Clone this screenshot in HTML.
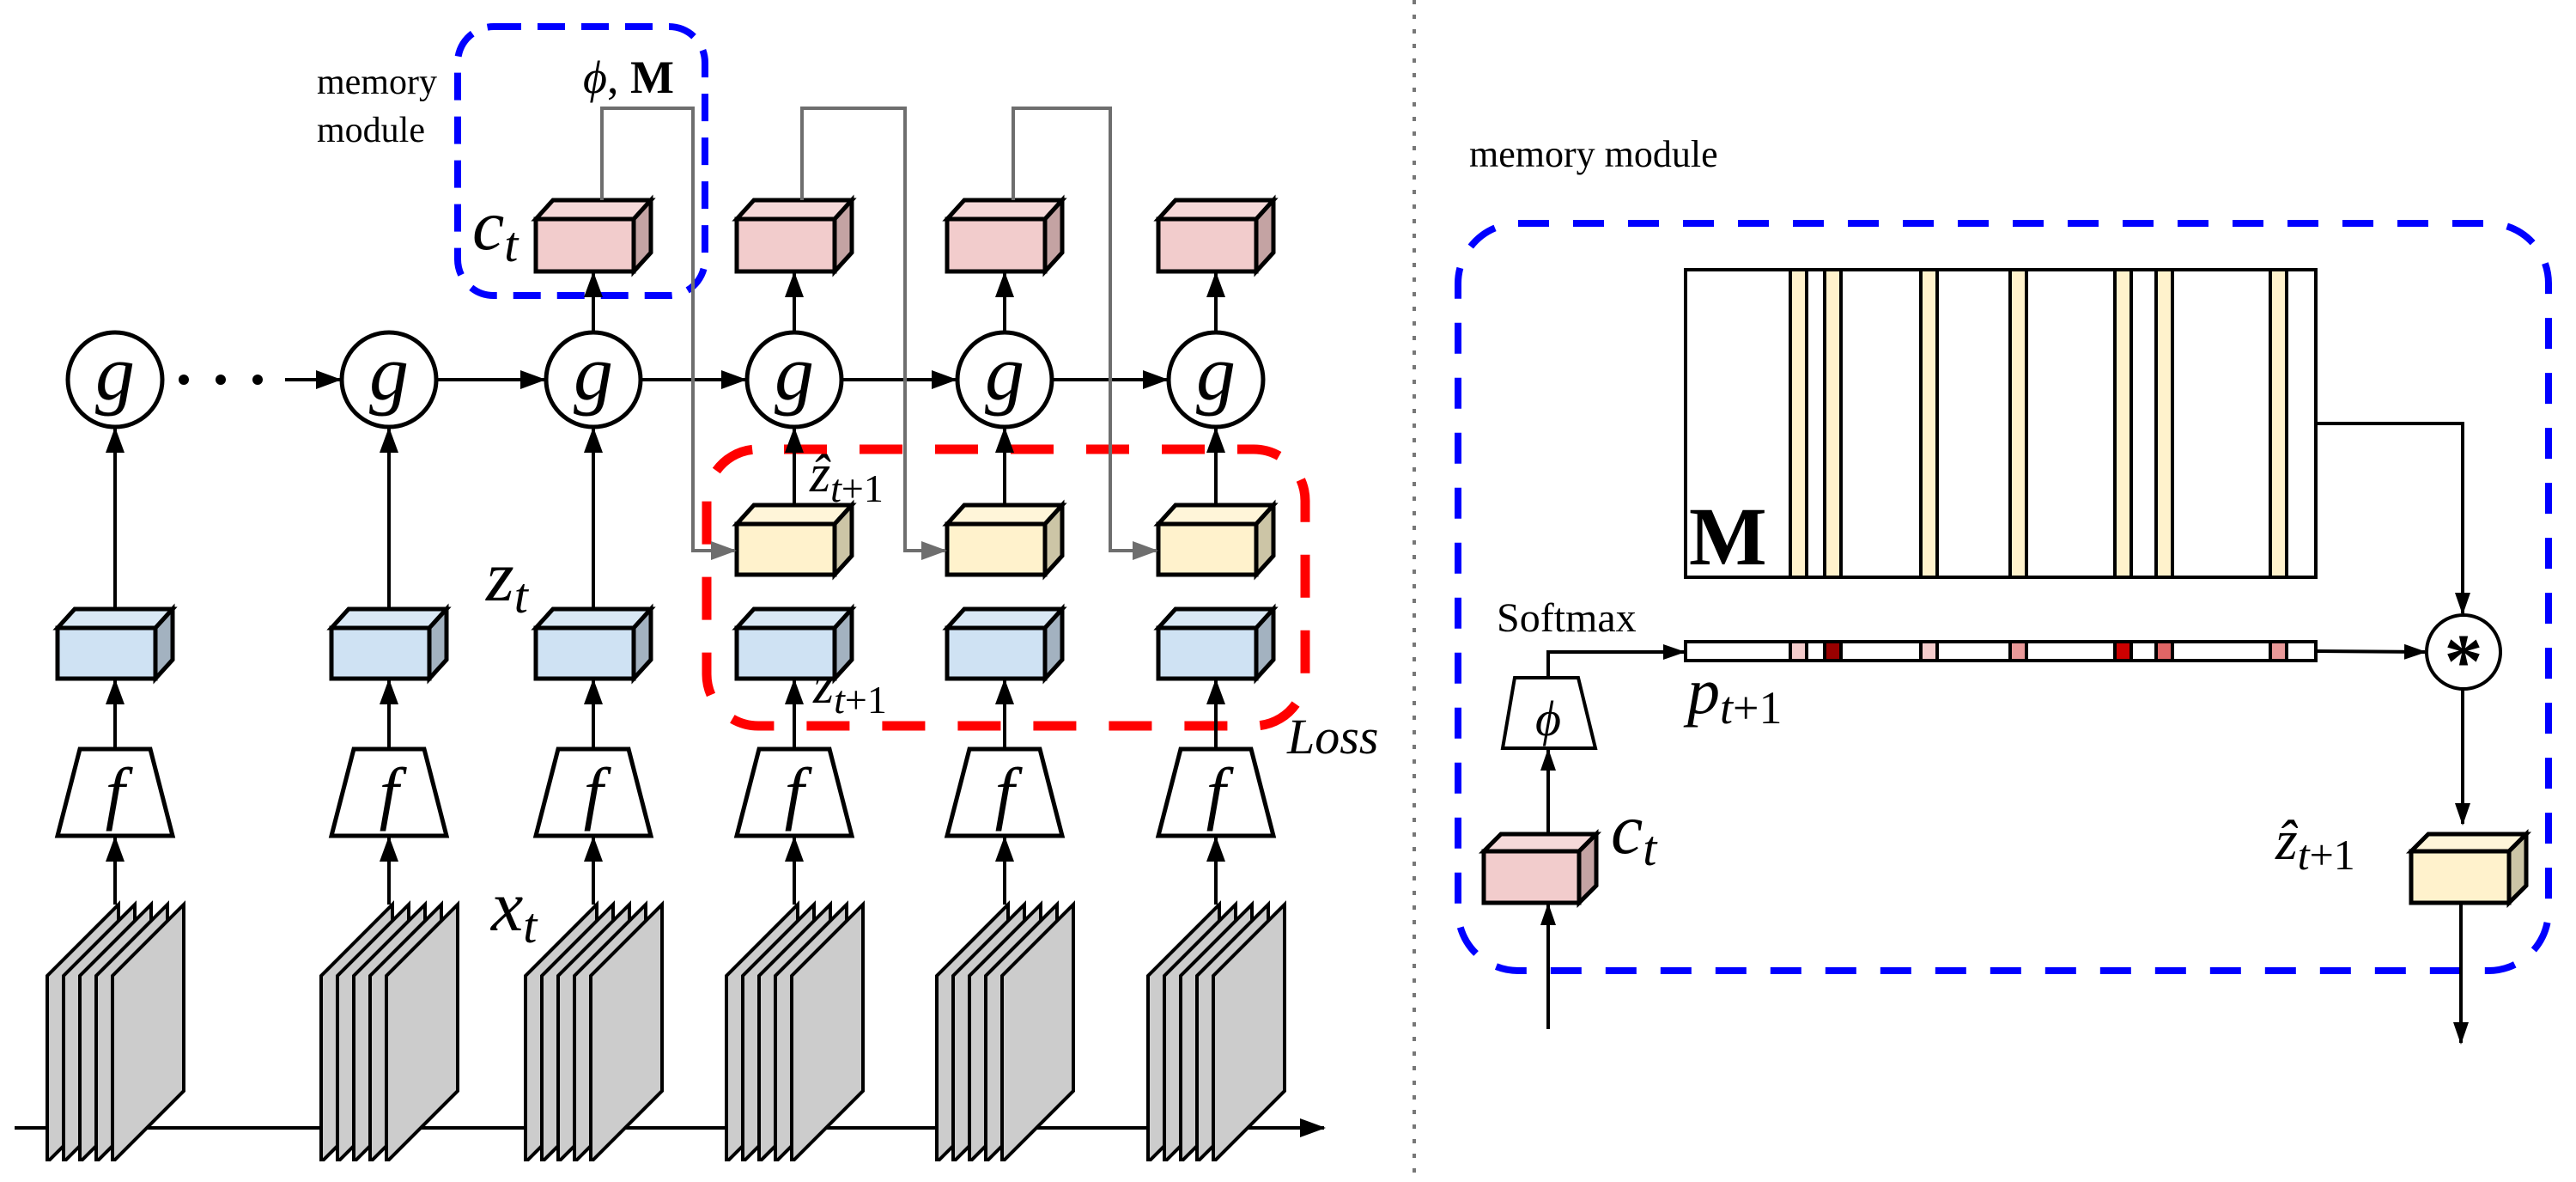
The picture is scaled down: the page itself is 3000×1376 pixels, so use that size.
<!DOCTYPE html>
<html><head><meta charset="utf-8"><style>
html,body{margin:0;padding:0;background:#fff}
svg{display:block}
svg, svg text{font-family:"Liberation Serif","DejaVu Serif",serif}
.it{font-style:italic}
</style></head><body>
<svg width="3000" height="1376" viewBox="0 0 3000 1376" xmlns="http://www.w3.org/2000/svg" font-family="Liberation Serif, DejaVu Serif, serif">
<defs>
<marker id="ab" markerUnits="userSpaceOnUse" markerWidth="30" markerHeight="22" refX="28" refY="11" orient="auto"><path d="M0,0 L30,11 L0,22 z" fill="#000"/></marker>
<marker id="ag" markerUnits="userSpaceOnUse" markerWidth="30" markerHeight="22" refX="28" refY="11" orient="auto"><path d="M0,0 L30,11 L0,22 z" fill="#6e6e6e"/></marker>
<marker id="as" markerUnits="userSpaceOnUse" markerWidth="26" markerHeight="18" refX="24" refY="9" orient="auto"><path d="M0,0 L26,9 L0,18 z" fill="#000"/></marker>
</defs>

<line x1="17" y1="1313" x2="1542" y2="1313" stroke="#000" stroke-width="4" marker-end="url(#ab)"/>

<g fill="#cccccc" stroke="#000" stroke-width="4" stroke-linejoin="miter">
<polygon points="55,1350 55,1136 138,1053 138,1270 58,1350"/>
<polygon points="74,1350 74,1136 157,1053 157,1270 77,1350"/>
<polygon points="93,1350 93,1136 176,1053 176,1270 96,1350"/>
<polygon points="112,1350 112,1136 195,1053 195,1270 115,1350"/>
<polygon points="131,1350 131,1136 214,1053 214,1270 134,1350"/>
<polygon points="374,1350 374,1136 457,1053 457,1270 377,1350"/>
<polygon points="393,1350 393,1136 476,1053 476,1270 396,1350"/>
<polygon points="412,1350 412,1136 495,1053 495,1270 415,1350"/>
<polygon points="431,1350 431,1136 514,1053 514,1270 434,1350"/>
<polygon points="450,1350 450,1136 533,1053 533,1270 453,1350"/>
<polygon points="612,1350 612,1136 695,1053 695,1270 615,1350"/>
<polygon points="631,1350 631,1136 714,1053 714,1270 634,1350"/>
<polygon points="650,1350 650,1136 733,1053 733,1270 653,1350"/>
<polygon points="669,1350 669,1136 752,1053 752,1270 672,1350"/>
<polygon points="688,1350 688,1136 771,1053 771,1270 691,1350"/>
<polygon points="846,1350 846,1136 929,1053 929,1270 849,1350"/>
<polygon points="865,1350 865,1136 948,1053 948,1270 868,1350"/>
<polygon points="884,1350 884,1136 967,1053 967,1270 887,1350"/>
<polygon points="903,1350 903,1136 986,1053 986,1270 906,1350"/>
<polygon points="922,1350 922,1136 1005,1053 1005,1270 925,1350"/>
<polygon points="1091,1350 1091,1136 1174,1053 1174,1270 1094,1350"/>
<polygon points="1110,1350 1110,1136 1193,1053 1193,1270 1113,1350"/>
<polygon points="1129,1350 1129,1136 1212,1053 1212,1270 1132,1350"/>
<polygon points="1148,1350 1148,1136 1231,1053 1231,1270 1151,1350"/>
<polygon points="1167,1350 1167,1136 1250,1053 1250,1270 1170,1350"/>
<polygon points="1337,1350 1337,1136 1420,1053 1420,1270 1340,1350"/>
<polygon points="1356,1350 1356,1136 1439,1053 1439,1270 1359,1350"/>
<polygon points="1375,1350 1375,1136 1458,1053 1458,1270 1378,1350"/>
<polygon points="1394,1350 1394,1136 1477,1053 1477,1270 1397,1350"/>
<polygon points="1413,1350 1413,1136 1496,1053 1496,1270 1416,1350"/>
</g>

<rect x="533" y="31" width="288" height="313" rx="42" fill="none" stroke="#0000ff" stroke-width="8" stroke-dasharray="32,19"/>
<rect x="823" y="523" width="697" height="322" rx="60" fill="none" stroke="#ff0000" stroke-width="11" stroke-dasharray="50,38" stroke-dashoffset="-30"/>

<g stroke="#000" stroke-width="4" marker-end="url(#ab)">
<line x1="134" y1="1053" x2="134" y2="975"/><line x1="453" y1="1053" x2="453" y2="975"/><line x1="691" y1="1053" x2="691" y2="975"/>
<line x1="925" y1="1053" x2="925" y2="975"/><line x1="1170" y1="1053" x2="1170" y2="975"/><line x1="1416" y1="1053" x2="1416" y2="975"/>
<line x1="134" y1="872" x2="134" y2="792"/><line x1="453" y1="872" x2="453" y2="792"/><line x1="691" y1="872" x2="691" y2="792"/>
<line x1="925" y1="872" x2="925" y2="792"/><line x1="1170" y1="872" x2="1170" y2="792"/><line x1="1416" y1="872" x2="1416" y2="792"/>
<line x1="134" y1="709" x2="134" y2="499"/><line x1="453" y1="709" x2="453" y2="499"/><line x1="691" y1="709" x2="691" y2="499"/>
<line x1="925" y1="589" x2="925" y2="499"/><line x1="1170" y1="589" x2="1170" y2="499"/><line x1="1416" y1="589" x2="1416" y2="499"/>
<line x1="691" y1="387" x2="691" y2="318"/><line x1="925" y1="387" x2="925" y2="318"/><line x1="1170" y1="387" x2="1170" y2="318"/><line x1="1416" y1="387" x2="1416" y2="318"/>
<line x1="332" y1="442" x2="396" y2="442"/>
<line x1="508" y1="442" x2="634" y2="442"/>
<line x1="746" y1="442" x2="868" y2="442"/>
<line x1="980" y1="442" x2="1113" y2="442"/>
<line x1="1225" y1="442" x2="1359" y2="442"/>
</g>
<circle cx="214" cy="442" r="6"/><circle cx="257" cy="442" r="6"/><circle cx="300" cy="442" r="6"/>

<g fill="#fff" stroke="#000" stroke-width="5" stroke-linejoin="miter">
<polygon points="93,872 175,872 201,973 67,973"/>
<polygon points="412,872 494,872 520,973 386,973"/>
<polygon points="650,872 732,872 758,973 624,973"/>
<polygon points="884,872 966,872 992,973 858,973"/>
<polygon points="1129,872 1211,872 1237,973 1103,973"/>
<polygon points="1375,872 1457,872 1483,973 1349,973"/>
</g>
<g font-size="82" text-anchor="middle" font-style="italic">
<text x="134" y="950">f</text><text x="453" y="950">f</text><text x="691" y="950">f</text>
<text x="925" y="950">f</text><text x="1170" y="950">f</text><text x="1416" y="950">f</text>
</g>

<g stroke="#000" stroke-width="5" stroke-linejoin="miter">
<g transform="translate(67,731)"><polygon points="0,0 20,-22 134,-22 114,0" fill="#d9e8f5"/><polygon points="114,0 134,-22 134,37 114,59" fill="#a3b2c0"/><rect width="114" height="59" fill="#cfe2f3"/></g>
<g transform="translate(386,731)"><polygon points="0,0 20,-22 134,-22 114,0" fill="#d9e8f5"/><polygon points="114,0 134,-22 134,37 114,59" fill="#a3b2c0"/><rect width="114" height="59" fill="#cfe2f3"/></g>
<g transform="translate(624,731)"><polygon points="0,0 20,-22 134,-22 114,0" fill="#d9e8f5"/><polygon points="114,0 134,-22 134,37 114,59" fill="#a3b2c0"/><rect width="114" height="59" fill="#cfe2f3"/></g>
<g transform="translate(858,731)"><polygon points="0,0 20,-22 134,-22 114,0" fill="#d9e8f5"/><polygon points="114,0 134,-22 134,37 114,59" fill="#a3b2c0"/><rect width="114" height="59" fill="#cfe2f3"/></g>
<g transform="translate(1103,731)"><polygon points="0,0 20,-22 134,-22 114,0" fill="#d9e8f5"/><polygon points="114,0 134,-22 134,37 114,59" fill="#a3b2c0"/><rect width="114" height="59" fill="#cfe2f3"/></g>
<g transform="translate(1349,731)"><polygon points="0,0 20,-22 134,-22 114,0" fill="#d9e8f5"/><polygon points="114,0 134,-22 134,37 114,59" fill="#a3b2c0"/><rect width="114" height="59" fill="#cfe2f3"/></g>
<g transform="translate(858,610)"><polygon points="0,0 20,-22 134,-22 114,0" fill="#fff5d9"/><polygon points="114,0 134,-22 134,37 114,59" fill="#ccc5a6"/><rect width="114" height="59" fill="#fff2cc"/></g>
<g transform="translate(1103,610)"><polygon points="0,0 20,-22 134,-22 114,0" fill="#fff5d9"/><polygon points="114,0 134,-22 134,37 114,59" fill="#ccc5a6"/><rect width="114" height="59" fill="#fff2cc"/></g>
<g transform="translate(1349,610)"><polygon points="0,0 20,-22 134,-22 114,0" fill="#fff5d9"/><polygon points="114,0 134,-22 134,37 114,59" fill="#ccc5a6"/><rect width="114" height="59" fill="#fff2cc"/></g>
<g transform="translate(624,255)"><polygon points="0,0 20,-22 134,-22 114,0" fill="#f5d9d9"/><polygon points="114,0 134,-22 134,39 114,61" fill="#c4a3a3"/><rect width="114" height="61" fill="#f2cccc"/></g>
<g transform="translate(858,255)"><polygon points="0,0 20,-22 134,-22 114,0" fill="#f5d9d9"/><polygon points="114,0 134,-22 134,39 114,61" fill="#c4a3a3"/><rect width="114" height="61" fill="#f2cccc"/></g>
<g transform="translate(1103,255)"><polygon points="0,0 20,-22 134,-22 114,0" fill="#f5d9d9"/><polygon points="114,0 134,-22 134,39 114,61" fill="#c4a3a3"/><rect width="114" height="61" fill="#f2cccc"/></g>
<g transform="translate(1349,255)"><polygon points="0,0 20,-22 134,-22 114,0" fill="#f5d9d9"/><polygon points="114,0 134,-22 134,39 114,61" fill="#c4a3a3"/><rect width="114" height="61" fill="#f2cccc"/></g>
</g>

<g fill="#fff" stroke="#000" stroke-width="5">
<circle cx="134" cy="442" r="55"/><circle cx="453" cy="442" r="55"/><circle cx="691" cy="442" r="55"/>
<circle cx="925" cy="442" r="55"/><circle cx="1170" cy="442" r="55"/><circle cx="1416" cy="442" r="55"/>
</g>
<g font-size="92" text-anchor="middle" font-style="italic">
<text x="134" y="465">g</text><text x="453" y="465">g</text><text x="691" y="465">g</text>
<text x="925" y="465">g</text><text x="1170" y="465">g</text><text x="1416" y="465">g</text>
</g>

<g fill="none" stroke="#6e6e6e" stroke-width="4" marker-end="url(#ag)">
<polyline points="701,233 701,126 807,126 807,641 856,641"/>
<polyline points="934,233 934,126 1054,126 1054,641 1101,641"/>
<polyline points="1180,233 1180,126 1293,126 1293,641 1347,641"/>
</g>

<text x="369" y="109" font-size="42">memory</text>
<text x="369" y="165" font-size="42">module</text>
<text x="679" y="108" font-size="54"><tspan font-style="italic">ϕ</tspan>, <tspan font-weight="bold">M</tspan></text>
<text x="550" y="290" font-size="84" font-style="italic">c<tspan font-size="58" dy="14">t</tspan></text>
<text x="566" y="699" font-size="84" font-style="italic">z<tspan font-size="58" dy="14">t</tspan></text>
<text x="572" y="1083" font-size="84" font-style="italic">x<tspan font-size="58" dy="14">t</tspan></text>
<text x="943" y="572" font-size="62" font-style="italic">ẑ<tspan font-size="46" dy="12">t</tspan><tspan font-size="46" font-style="normal">+1</tspan></text>
<text x="947" y="818" font-size="62" font-style="italic">z<tspan font-size="46" dy="12">t</tspan><tspan font-size="46" font-style="normal">+1</tspan></text>
<text x="1499" y="877" font-size="58" font-style="italic">Loss</text>

<line x1="1647" y1="0" x2="1647" y2="1376" stroke="#777" stroke-width="4" stroke-dasharray="5,12"/>

<text x="1711" y="194" font-size="44">memory module</text>
<rect x="1698" y="260" width="1270" height="870" rx="70" fill="none" stroke="#0000ff" stroke-width="8" stroke-dasharray="36,28"/>

<rect x="1963" y="314" width="734" height="358" fill="#fff" stroke="#000" stroke-width="4"/>
<g fill="#fff2cc" stroke="#000" stroke-width="4">
<rect x="2085" y="314" width="19" height="358"/><rect x="2125" y="314" width="19" height="358"/>
<rect x="2237" y="314" width="19" height="358"/><rect x="2341" y="314" width="19" height="358"/>
<rect x="2463" y="314" width="19" height="358"/><rect x="2511" y="314" width="19" height="358"/>
<rect x="2644" y="314" width="19" height="358"/>
</g>
<text x="1967" y="657" font-size="96" font-weight="bold">M</text>

<rect x="1963" y="747" width="734" height="22" fill="#fff" stroke="#000" stroke-width="4"/>
<g stroke="#000" stroke-width="4">
<rect x="2085" y="747" width="19" height="22" fill="#f4cccc"/><rect x="2125" y="747" width="19" height="22" fill="#990000"/>
<rect x="2237" y="747" width="19" height="22" fill="#f4cccc"/><rect x="2341" y="747" width="19" height="22" fill="#ea9999"/>
<rect x="2463" y="747" width="19" height="22" fill="#cc0000"/><rect x="2511" y="747" width="19" height="22" fill="#e06666"/>
<rect x="2644" y="747" width="19" height="22" fill="#ea9999"/>
</g>
<text x="1743" y="735" font-size="48">Softmax</text>
<text x="1965" y="830" font-size="76" font-style="italic">p<tspan font-size="54" dy="12">t</tspan><tspan font-size="54" font-style="normal">+1</tspan></text>

<polygon points="1764,789 1838,789 1858,871 1750,871" fill="#fff" stroke="#000" stroke-width="4"/>
<text x="1803" y="856" font-size="58" font-style="italic" text-anchor="middle">ϕ</text>

<g stroke="#000" stroke-width="4" fill="none">
<polyline points="1803,789 1803,759 1961,759" marker-end="url(#as)"/>
<line x1="2697" y1="758" x2="2824" y2="759" marker-end="url(#as)"/>
<polyline points="2697,493 2868,493 2868,714" marker-end="url(#as)"/>
<line x1="2868" y1="802" x2="2868" y2="959" marker-end="url(#as)"/>
<line x1="1803" y1="1198" x2="1803" y2="1053" marker-end="url(#as)"/>
<line x1="1803" y1="971" x2="1803" y2="873" marker-end="url(#as)"/>
<line x1="2866" y1="1051" x2="2866" y2="1214" marker-end="url(#as)"/>
</g>
<circle cx="2869" cy="759" r="43" fill="#fff" stroke="#000" stroke-width="4"/>
<text x="2869" y="800" font-size="90" text-anchor="middle" font-weight="bold">*</text>

<g stroke="#000" stroke-width="5">
<g transform="translate(1728,991)"><polygon points="0,0 20,-20 131,-20 111,0" fill="#f5d9d9"/><polygon points="111,0 131,-20 131,40 111,60" fill="#c4a3a3"/><rect width="111" height="60" fill="#f2cccc"/></g>
<g transform="translate(2808,991)"><polygon points="0,0 20,-20 134,-20 114,0" fill="#fff5d9"/><polygon points="114,0 134,-20 134,40 114,60" fill="#ccc5a6"/><rect width="114" height="60" fill="#fff2cc"/></g>
</g>
<text x="1876" y="993" font-size="84" font-style="italic">c<tspan font-size="58" dy="14">t</tspan></text>
<text x="2650" y="1000" font-size="66" font-style="italic">ẑ<tspan font-size="50" dy="12">t</tspan><tspan font-size="50" font-style="normal">+1</tspan></text>
</svg>
</body></html>
